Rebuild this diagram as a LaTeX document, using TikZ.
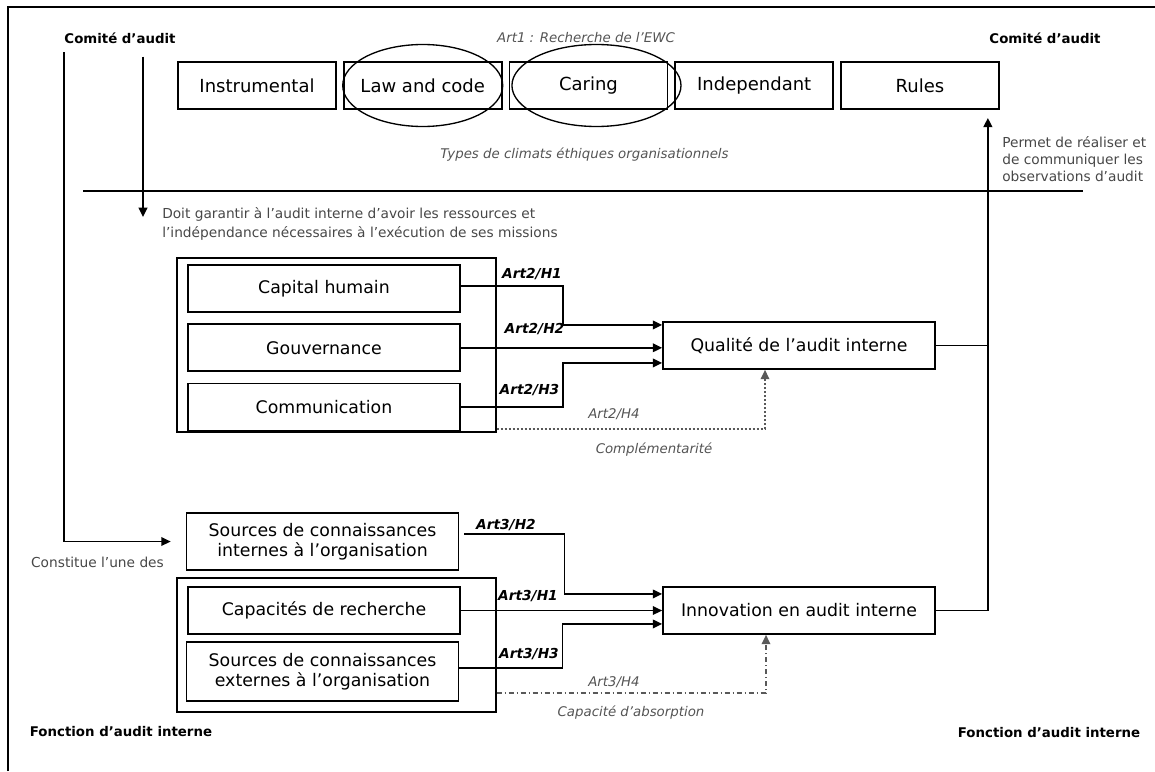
\documentclass[tikz,border=0pt]{standalone}
\usepackage{fontspec}
\setmainfont{DejaVu Sans}
\usetikzlibrary{arrows.meta,positioning}
\tikzset{
	clim/.style={draw, line width=1.3pt, minimum width=118.5pt, minimum height=35.25pt, inner sep=0pt, font=\fontsize{13.5}{16}\selectfont},
	bloc/.style={draw, line width=1.3pt, minimum width=204pt, minimum height=35.25pt, inner sep=0pt, align=center, font=\fontsize{13}{15}\selectfont},
	grp/.style={draw, line width=1.3pt, minimum width=239pt, inner sep=0pt},
	hyp/.style={inner sep=0pt, font=\fontsize{10.3}{12}\selectfont\bfseries\itshape},
	titre/.style={inner sep=0pt, font=\fontsize{10}{12}\selectfont\bfseries},
	comm/.style={inner sep=0pt, align=left, text=black!72, font=\fontsize{10.3}{12.75}\selectfont},
	ital/.style={inner sep=0pt, text=black!67, font=\fontsize{10}{12}\selectfont\itshape},
	lien/.style={line width=1.3pt},
	fleche/.style={line width=1.2pt, -{Triangle[length=7pt,width=6.5pt]}},
	pointille/.style={line width=1pt, black!65, dash pattern=on 1.5pt off 1.5pt, -{Triangle[length=7pt,width=6.5pt]}},
	tiretpoint/.style={line width=1pt, black!65, dash pattern=on 4pt off 2pt on 1pt off 2pt, -{Triangle[length=7pt,width=6.5pt]}},
}

\begin{document}
\begin{tikzpicture}[x=0.75pt, y=-0.75pt]
		%%%%% START %%%%%
		\useasboundingbox (0,0) rectangle (1155,771);
		\draw[line width=1.75pt] (8,771) -- (8,7) -- (1155,7);
		
		% comite d'audit et climats ethiques
		\node[titre] (comG) at (120,38.5) {Comité d’audit};
		\node[titre] (comD) at (1045,38.5) {Comité d’audit};
		\node[ital] (art1) at (586,38) {Art1 : Recherche de l’EWC};
		
		\node[clim] (instr) at (257,85.5) {Instrumental};
		\node[clim, right=4.5pt of instr] (law) {Law and code};
		\node[clim, right=4.5pt of law] (caring) {Caring};
		\node[clim, right=4.5pt of caring] (indep) {Independant};
		\node[clim, right=4.5pt of indep] (rules) {Rules};
		
		\draw[line width=1pt] (law.center) ellipse (60pt and 30.75pt);
		\draw[line width=1pt] ([xshift=6pt]caring.center) ellipse (63.4pt and 30.75pt);
		
		\node[ital] (types) at (584.5,155) {Types de climats éthiques organisationnels};
		\node[comm, anchor=west] (permet) at (1002,159) {Permet de réaliser et\\de communiquer les\\observations d’audit};
		
		\draw[line width=1.3pt] (83,191) -- (1083,191);
		
		\node[comm, anchor=west, font=\fontsize{10.3}{14.25}\selectfont] (doit) at (162,223.5) {Doit garantir à l’audit interne d’avoir les ressources et\\l’indépendance nécessaires à l’exécution de ses missions};
		
		% qualite de l'audit interne
		\node[grp, minimum height=130.5pt] (grpA) at (336.5,345) {};
		\node[bloc] (capital) at (324,288.5) {Capital humain};
		\node[bloc, below=7.9pt of capital] (gouv) {Gouvernance};
		\node[bloc, below=7.9pt of gouv] (commu) {Communication};
		\node[bloc] (qualite) at (799,345.5) {Qualité de l’audit interne};
		
		\draw[fleche] ([yshift=2pt]capital.east) -- ++(102,0) |- ([yshift=15.4pt]qualite.west);
		\draw[fleche] (gouv.east) -- (gouv.east -| qualite.west);
		\draw[fleche] (commu.east) -- ++(102,0) |- ([yshift=-13.1pt]qualite.west);
		\draw[pointille] ([yshift=3pt]grpA.south east) -| ([xshift=-25.5pt]qualite.south);
		
		\node[hyp] (h21) at (532,274) {Art2/H1};
		\node[hyp] (h22) at (534.5,329) {Art2/H2};
		\node[hyp] (h23) at (529.5,390) {Art2/H3};
		\node[ital] (h24) at (614,414) {Art2/H4};
		\node[ital] (compl) at (654,450) {Complémentarité};
		
		% innovation en audit interne
		\node[bloc, minimum height=42.75pt] (sint) at (322.5,541.5) {Sources de connaissances\\internes à l’organisation};
		\node[grp, minimum height=100.5pt] (grpB) at (336.5,645) {};
		\node[bloc] (capa) at (324,610.5) {Capacités de recherche};
		\node[bloc, minimum height=44.25pt] (sext) at (322.5,671.5) {Sources de connaissances\\externes à l’organisation};
		\node[bloc] (innov) at (799,610.5) {Innovation en audit interne};
		
		\draw[fleche] ([xshift=3.75pt,yshift=5.6pt]sint.east) -- ++(100,0) |- ([yshift=12.4pt]innov.west);
		\draw[fleche] (capa.east) -- (capa.east -| innov.west);
		\draw[fleche] ([yshift=2.6pt]sext.east) -- ++(103,0) |- ([yshift=-10.1pt]innov.west);
		\draw[tiretpoint] ([yshift=15pt]grpB.south east) -| ([xshift=-24.75pt]innov.south);
		
		\node[hyp] (h32) at (506,525) {Art3/H2};
		\node[hyp] (h31) at (528,596.5) {Art3/H1};
		\node[hyp] (h33) at (529,654) {Art3/H3};
		\node[ital] (h34) at (614,682) {Art3/H4};
		\node[ital] (absor) at (631,713) {Capacité d’absorption};
		
		% retour vers le comite
		\draw[lien] (innov.east) -- ++(52,0) coordinate (coin);
		\draw[fleche, line width=2pt, shorten >=6pt] (coin) -- (coin |- rules.south);
		\draw[lien] (qualite.east) -- (qualite.east -| coin);
		
		% fonction d'audit interne
		\coordinate (depG) at (64,52);
		\coordinate (depB) at (143,56.5);
		\draw[fleche] (depG) |- ([xshift=-11.25pt]sint.west);
		\draw[fleche] (depB) -- (143,217);
		\node[comm] (constitue) at (97.5,562) {Constitue l’une des};
		
		\node[titre] (fonctG) at (121,732) {Fonction d’audit interne};
		\node[titre] (fonctD) at (1049,733) {Fonction d’audit interne};
		%%%%% END %%%%%
\end{tikzpicture}
\end{document}
